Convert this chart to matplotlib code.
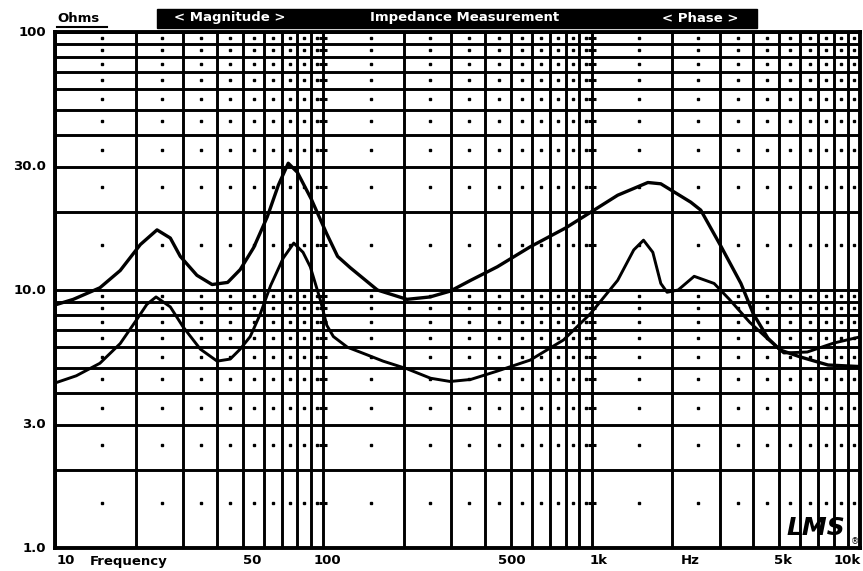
import numpy as np
import matplotlib
matplotlib.use("Agg")
import matplotlib.pyplot as plt
from matplotlib.ticker import LogLocator, NullFormatter
from matplotlib.patches import Rectangle
from matplotlib.lines import Line2D

# upper curve
freq_a = [10, 11.7, 14.7, 17.5, 20.8, 24, 26.9, 29.3, 33.8, 38.5, 44, 49, 55, 61.8,
          68, 74, 80, 90, 103, 113, 126, 159, 205, 250, 297, 354, 445, 590, 800,
          990, 1250, 1620, 1810, 2340, 2550, 3030, 3600, 4000, 4540, 5050, 6000,
          7600, 10000]
ohm_a = [8.75, 9.2, 10.2, 11.9, 15.0, 17.1, 15.9, 13.5, 11.4, 10.5, 10.7, 12.0, 14.6,
         19.2, 25.5, 31.0, 28.6, 22.6, 16.5, 13.5, 12.2, 10.0, 9.2, 9.4, 9.9, 10.9,
         12.3, 14.7, 17.4, 20.0, 23.3, 26.1, 25.8, 21.9, 20.4, 14.8, 10.6, 8.1, 6.5,
         5.85, 5.5, 5.12, 5.05]

# lower curve
freq_b = [10, 12, 14.7, 17.5, 20.2, 22, 23.8, 26.9, 30, 34.8, 40.2, 45, 49, 53.4, 58,
          63.6, 70.9, 77.6, 84, 89.4, 97.6, 103, 109, 123, 146, 167, 205, 251, 297,
          354, 445, 590, 785, 990, 1250, 1435, 1560, 1690, 1810, 1910, 2100, 2410,
          2860, 3260, 3880, 4540, 5200, 6360, 7990, 10000]
ohm_b = [4.36, 4.65, 5.2, 6.2, 7.7, 8.8, 9.4, 8.6, 7.2, 5.9, 5.3, 5.4, 5.9, 6.6, 8.0,
         10.4, 13.3, 15.2, 14.0, 12.3, 9.1, 7.3, 6.6, 6.0, 5.6, 5.3, 4.95, 4.55, 4.42,
         4.5, 4.85, 5.35, 6.4, 8.1, 10.9, 14.3, 15.6, 14.0, 10.6, 9.8, 10.0, 11.3,
         10.6, 9.2, 7.5, 6.45, 5.7, 5.75, 6.23, 6.58]

y_labels = ["100", "30.0", "10.0", "3.0", "1.0"]
y_label_vals = [100, 30, 10, 3, 1]

W, H = 863, 571
fig = plt.figure(figsize=(W / 100, H / 100), dpi=100)
ax = fig.add_axes([55 / W, 1 - 548 / H, 805 / W, 516 / H])
ax.set_xscale("log")
ax.set_yscale("log")
ax.set_xlim(10, 10000)
ax.set_ylim(1, 100)

subs = np.arange(1, 10)
ax.xaxis.set_major_locator(LogLocator(base=10, subs=subs))
ax.yaxis.set_major_locator(LogLocator(base=10, subs=subs))
ax.xaxis.set_minor_locator(LogLocator(base=10, subs=[]))
ax.yaxis.set_minor_locator(LogLocator(base=10, subs=[]))
ax.xaxis.set_major_formatter(NullFormatter())
ax.yaxis.set_major_formatter(NullFormatter())
ax.tick_params(length=0)
ax.grid(True, which="major", color="black", lw=2.1)
for s in ax.spines.values():
    s.set_linewidth(2.8)

# dots in the middle of the cells
dx = np.concatenate([np.arange(1.5, 10, 1) * 10 ** k for k in (1, 2, 3)])
dy = np.concatenate([np.arange(1.5, 10, 1) * 10 ** k for k in (0, 1)])
gx, gy = np.meshgrid(dx, dy)
ax.plot(gx.ravel(), gy.ravel(), ls="none", marker="s", ms=2.0, color="black")
for xv in (100, 1000):
    ax.plot([xv] * len(dy), dy, ls="none", marker="_", ms=6, mew=2.2, color="black")

ax.plot(freq_a, ohm_a, color="black", lw=2.4, solid_joinstyle="round")
ax.plot(freq_b, ohm_b, color="black", lw=2.1, solid_joinstyle="round")

# header
fig.patches.append(Rectangle((157 / W, 1 - 28 / H), 600 / W, 19 / H,
                             transform=fig.transFigure, color="black"))
hdr = dict(color="white", fontsize=9.5, fontweight="bold", va="center", ha="center")
fig.text(230 / W, 1 - 18 / H, "< Magnitude >", **hdr)
fig.text(465 / W, 1 - 18 / H, "Impedance Measurement", **hdr)
fig.text(700 / W, 1 - 18 / H, "< Phase >", **hdr)
fig.text(57 / W, 1 - 19 / H, "Ohms", fontsize=9.5, fontweight="bold", va="center")
fig.lines.append(Line2D([57 / W, 107 / W], [1 - 27 / H, 1 - 27 / H],
                        transform=fig.transFigure, color="black", lw=1.5))

# y labels
for lab, v in zip(y_labels, y_label_vals):
    ypx = 548 - np.log10(v) * 258
    fig.text(46 / W, 1 - ypx / H, lab, fontsize=9.5, fontweight="bold",
             ha="right", va="center")

# x labels
xl = [("10", 57, "left"), ("Frequency", 90, "left"), ("50", 252, "center"),
      ("100", 327, "center"), ("500", 512, "center"), ("1k", 599, "center"),
      ("Hz", 690, "center"), ("5k", 783, "center"), ("10k", 861, "right")]
for lab, xpx, ha in xl:
    fig.text(xpx / W, 1 - 561 / H, lab, fontsize=9.5, fontweight="bold",
             ha=ha, va="center")

# logo
fig.text(786 / W, 1 - 528 / H, "LMS", fontsize=18, style="italic",
         fontweight="bold", va="center", ha="left")
fig.text(851 / W, 1 - 542 / H, "\u00ae", fontsize=6, va="center", ha="left")

fig.savefig("out.png", dpi=100)
